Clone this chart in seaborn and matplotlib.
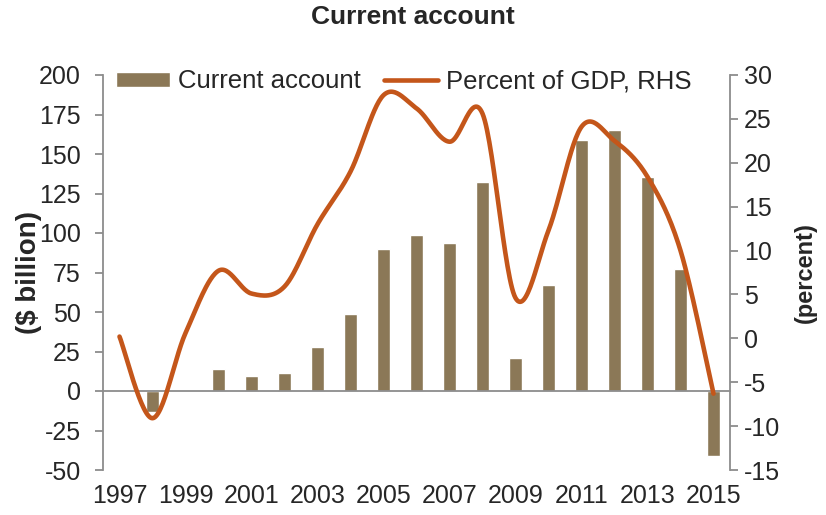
import numpy as np
import pandas as pd
import matplotlib
matplotlib.use("Agg")
import matplotlib.pyplot as plt
import seaborn as sns

years = list(range(1997, 2016))
current_account = [0, -13, 0, 14, 9.3, 11.6, 28, 49, 90, 99, 93.5, 132, 21, 67, 159, 165, 135.6, 77, -41]
pct_gdp = [0.2, -9.1, 0.6, 7.7, 5.1, 5.9, 13.0, 19.0, 27.7, 26.2, 22.4, 25.6, 4.6, 12.3, 24.1, 22.5, 18.4, 10.0, -6.3]
left_ticks = list(range(-50, 201, 25))
right_ticks = list(range(-15, 31, 5))
year_labels = [str(y) if y % 2 == 1 else "" for y in years]

sns.set_style("white")
plt.rcParams["font.family"] = ["Liberation Sans", "DejaVu Sans"]
plt.rcParams["axes.unicode_minus"] = False

bar_color = "#8B7857"
line_color = "#C4561A"
axis_color = "#8C8C8C"
tick_fs = 18

fig = plt.figure(figsize=(8.26, 5.15), dpi=100)
ax = fig.add_axes([103 / 826, 45 / 515, 627 / 826, 395 / 515])

df = pd.DataFrame({"year": [str(y) for y in years], "value": current_account})
sns.barplot(data=df, x="year", y="value", color=bar_color, width=0.4,
            saturation=1, ax=ax, label="Current account")

ax.set_xlim(-0.5, len(years) - 0.5)
ax.set_ylim(-50, 200)
ax.set_yticks(left_ticks)
ax.set_yticklabels([str(t) for t in left_ticks], fontsize=tick_fs)
ax.set_xlabel("")
ax.set_ylabel("($ billion)", fontsize=20, fontweight="bold", labelpad=-2)

for s in ["top", "right"]:
    ax.spines[s].set_visible(False)
ax.spines["left"].set_color(axis_color)
ax.spines["bottom"].set_color(axis_color)
ax.spines["bottom"].set_position(("data", 0))
ax.spines["left"].set_linewidth(1.3)
ax.spines["bottom"].set_linewidth(1.3)

# major ticks at category boundaries, labels on minor ticks at centers
bounds = np.arange(-0.5, len(years) - 0.4, 1.0)
ax.set_xticks(bounds)
ax.set_xticklabels([""] * len(bounds))
ax.set_xticks(np.arange(len(years)), minor=True)
ax.set_xticklabels(year_labels, minor=True, fontsize=tick_fs)
ax.tick_params(axis="x", which="major", direction="out", length=6, width=1.3, color=axis_color)
ax.tick_params(axis="x", which="minor", length=0, pad=67)
ax.tick_params(axis="y", direction="out", length=6, width=1.3, color=axis_color, pad=10)

# smoothed line (Bezier smoothing like the spreadsheet's smoothed line)
xs = np.arange(len(years), dtype=float)
ys = np.array(pct_gdp, dtype=float)
px = np.concatenate([[xs[0]], xs, [xs[-1]]])
py = np.concatenate([[ys[0]], ys, [ys[-1]]])
sx, sy = [], []
t = np.linspace(0, 1, 30)
for i in range(len(xs) - 1):
    p0 = np.array([px[i], py[i]]); p1 = np.array([px[i + 1], py[i + 1]])
    p2 = np.array([px[i + 2], py[i + 2]]); p3 = np.array([px[i + 3], py[i + 3]])
    c1 = p1 + (p2 - p0) / 6.0
    c2 = p2 - (p3 - p1) / 6.0
    pts = (((1 - t) ** 3)[:, None] * p1 + (3 * (1 - t) ** 2 * t)[:, None] * c1
           + (3 * (1 - t) * t ** 2)[:, None] * c2 + (t ** 3)[:, None] * p2)
    sx.extend(pts[:, 0]); sy.extend(pts[:, 1])

ax2 = ax.twinx()
ax2.set_position(ax.get_position())
sns.lineplot(x=sx, y=sy, sort=False, color=line_color, linewidth=3.3,
             ax=ax2, label="Percent of GDP, RHS")
ax2.set_ylim(-15, 30)
ax2.set_yticks(right_ticks)
ax2.set_yticklabels([str(t) for t in right_ticks], fontsize=tick_fs)
ax2.set_ylabel("(percent)", fontsize=17, fontweight="bold", labelpad=10)
for s in ["top", "left", "bottom"]:
    ax2.spines[s].set_visible(False)
ax2.spines["right"].set_color(axis_color)
ax2.spines["right"].set_linewidth(1.3)
ax2.tick_params(axis="y", direction="out", length=6, width=1.3, color=axis_color, pad=4)
ax2.set_xlim(-0.5, len(years) - 0.5)

# legend
h1, l1 = ax.get_legend_handles_labels()
h2, l2 = ax2.get_legend_handles_labels()
if ax2.get_legend():
    ax2.get_legend().remove()
if ax.get_legend():
    ax.get_legend().remove()
ax2.legend(h1 + h2, l1 + l2, ncol=2, loc="upper left", bbox_to_anchor=(0.005, 1.04),
           frameon=False, fontsize=18.5, handlelength=2.1, handleheight=0.55,
           columnspacing=0.9, handletextpad=0.3, borderaxespad=0.0)

fig.suptitle("Current account", fontsize=19, fontweight="bold", x=0.5, y=0.99)

fig.savefig("out.png", dpi=100)
